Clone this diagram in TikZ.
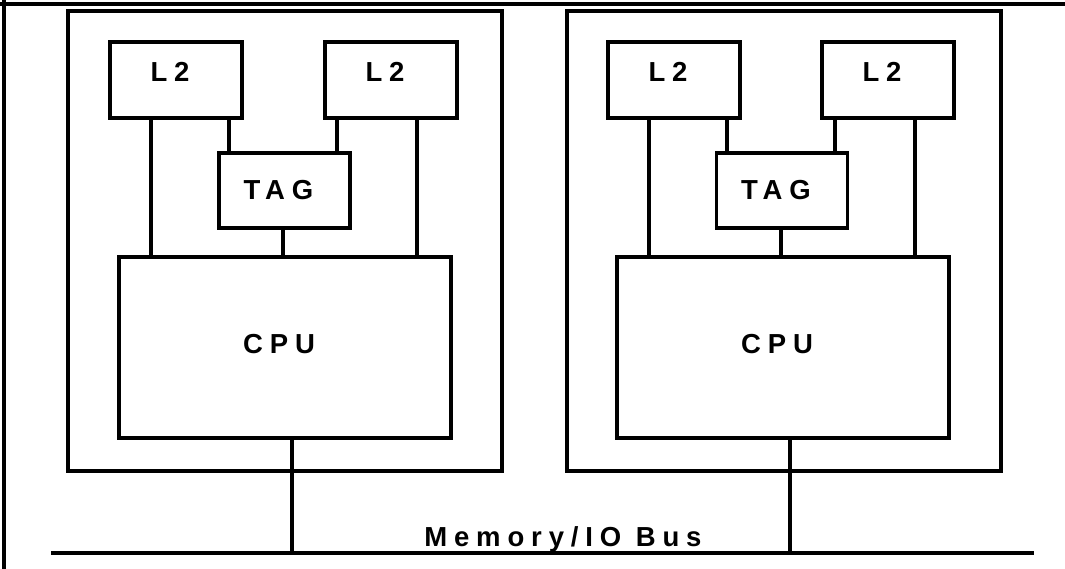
\documentclass[tikz,border=0pt]{standalone}
\usepackage{fontspec}
\setmainfont{Liberation Sans}
\newfontfamily\spacedfont{Liberation Sans}[UprightFont={* Bold}, LetterSpace=25, Scale=1.15]
\usetikzlibrary{positioning}

\begin{document}
\begin{tikzpicture}[
    x=0.025cm, y=-0.025cm,
    link/.style={draw, line width=2.6pt},
    box/.style={draw, line width=2.6pt, inner sep=0pt, font=\fontsize{17}{20}\spacedfont,
        execute at end node={\hspace{0.3cm}}},
    module/.style={box, minimum width=10.85cm, minimum height=11.5cm},
    cache/.style={box, minimum width=3.3cm, minimum height=1.9cm, text height=13pt, text depth=11pt},
    tagbox/.style={box, minimum width=3.275cm, minimum height=1.875cm},
    cpubox/.style={box, minimum width=8.3cm, minimum height=4.525cm, text height=14pt, text depth=5pt},
]
    \useasboundingbox (0,0) rectangle (1065,569);
    % page frame
    \draw[link] (0,4) -- (1065,4);
    \draw[link] (4,0) -- (4,569);

    % left module
    \node[module] (moda) at (285,241) {};
    \node[cache] (l2a) at (176,80) {L2};
    \node[cache] (l2b) at (391,80) {L2};
    \node[tagbox] (taga) at (284.5,190.5) {TAG};
    \node[cpubox] (cpua) at (285,347.5) {CPU};
    \draw[link] (l2a.south -| 151,0) -- (cpua.north -| 151,0);
    \draw[link] (l2a.south -| 229,0) -- (taga.north -| 229,0);
    \draw[link] (l2b.south -| 337,0) -- (taga.north -| 337,0);
    \draw[link] (l2b.south -| 417,0) -- (cpua.north -| 417,0);
    \draw[link] (taga.south -| 283,0) -- (cpua.north -| 283,0);

    % right module
    \node[module] (modb) at (784,241) {};
    \node[cache] (l2c) at (674,80) {L2};
    \node[cache] (l2d) at (888,80) {L2};
    \node[tagbox] (tagb) at (782,190.5) {TAG};
    \node[cpubox] (cpub) at (783,347.5) {CPU};
    \draw[link] (l2c.south -| 649,0) -- (cpub.north -| 649,0);
    \draw[link] (l2c.south -| 727,0) -- (tagb.north -| 727,0);
    \draw[link] (l2d.south -| 835,0) -- (tagb.north -| 835,0);
    \draw[link] (l2d.south -| 915,0) -- (cpub.north -| 915,0);
    \draw[link] (tagb.south -| 781,0) -- (cpub.north -| 781,0);

    % bus
    \coordinate (busw) at (51,553);
    \coordinate (buse) at (1034,553);
    \draw[link] (busw) -- (buse);
    \draw[link] (cpua.south -| 292,0) -- (busw -| 292,0);
    \draw[link] (cpub.south -| 790,0) -- (busw -| 790,0);
    \node[anchor=base west, inner sep=0pt, font=\fontsize{17}{20}\spacedfont] (buslabel) at (424,546) {Memory/IO Bus};
\end{tikzpicture}
\end{document}
